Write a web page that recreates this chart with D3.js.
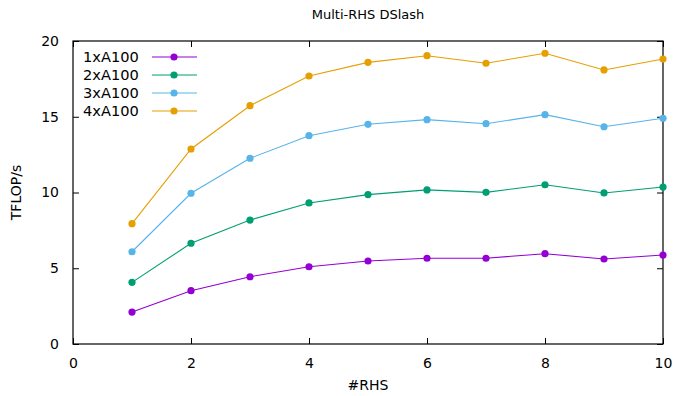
<!DOCTYPE html>
<html>
<head>
<meta charset="utf-8">
<script src="https://cdn.jsdelivr.net/npm/d3@7"></script>
<style>
  body { margin: 0; background: #fff; }
  svg { font-family: "DejaVu Sans", sans-serif; }
</style>
</head>
<body>
<script>
// Données
const rhs = [1, 2, 3, 4, 5, 6, 7, 8, 9, 10];
const gpus1 = [2.11, 3.52, 4.44, 5.10, 5.48, 5.66, 5.66, 5.96, 5.61, 5.87];
const gpus2 = [4.07, 6.65, 8.18, 9.31, 9.86, 10.17, 10.01, 10.51, 9.97, 10.36];
const gpus3 = [6.09, 9.95, 12.26, 13.75, 14.50, 14.81, 14.54, 15.14, 14.34, 14.90];
const gpus4 = [7.94, 12.87, 15.73, 17.69, 18.59, 19.03, 18.53, 19.19, 18.09, 18.81];
const seriesNames = ['1xA100', '2xA100', '3xA100', '4xA100'];
const colors = ['#9400d3', '#009e73', '#56b4e9', '#e69f00'];
const xTicks = [0, 2, 4, 6, 8, 10];
const yTicks = [0, 5, 10, 15, 20];

const series = [gpus1, gpus2, gpus3, gpus4].map((vals, i) => ({
    name: seriesNames[i],
    color: colors[i],
    values: vals.map((v, j) => ({ x: rhs[j], y: v }))
}));

const W = 676, H = 396;
const margin = { top: 41, right: 13, bottom: 52, left: 73 };
const width = W - margin.left - margin.right,
    height = H - margin.top - margin.bottom;

const svg = d3.select('body').append('svg')
    .attr('width', W)
    .attr('height', H);

const g = svg.append('g')
    .attr('transform', `translate(${margin.left}, ${margin.top})`);

const x = d3.scaleLinear().domain([0, 10]).range([0, width]);
const y = d3.scaleLinear().domain([0, 20]).range([height, 0]);

// Axes avec ticks vers l'intérieur (style gnuplot)
const tk = 6;
g.append('g')
    .attr('transform', `translate(0, ${height})`)
    .call(d3.axisBottom(x).tickValues(xTicks).tickSize(-tk).tickPadding(14).tickFormat(d3.format('d')));
g.append('g')
    .call(d3.axisTop(x).tickValues(xTicks).tickSize(-tk).tickFormat(''));
g.append('g')
    .call(d3.axisLeft(y).tickValues(yTicks).tickSize(-tk).tickPadding(14).tickFormat(d3.format('d')));
g.append('g')
    .attr('transform', `translate(${width}, 0)`)
    .call(d3.axisRight(y).tickValues(yTicks).tickSize(-tk).tickFormat(''));

g.selectAll('.domain').remove();
g.selectAll('.tick line').attr('stroke', '#000').attr('stroke-width', 1);
g.selectAll('.tick text')
    .attr('font-size', 14)
    .attr('font-family', '"DejaVu Sans", sans-serif')
    .attr('fill', '#000');

g.append('rect')
    .attr('width', width)
    .attr('height', height)
    .attr('fill', 'none')
    .attr('stroke', '#000')
    .attr('stroke-width', 1.2);

// Courbes
const line = d3.line().x(d => x(d.x)).y(d => y(d.y));

series.forEach(s => {
    g.append('path')
        .datum(s.values)
        .attr('fill', 'none')
        .attr('stroke', s.color)
        .attr('stroke-width', 1.1)
        .attr('d', line);
    g.selectAll(null)
        .data(s.values)
        .join('circle')
        .attr('cx', d => x(d.x))
        .attr('cy', d => y(d.y))
        .attr('r', 3.6)
        .attr('fill', s.color);
});

// Légende
const legend = svg.append('g');
series.forEach((s, i) => {
    const ly = 57 + i * 18;
    legend.append('text')
        .attr('x', 83)
        .attr('y', ly)
        .attr('dy', '0.35em')
        .attr('font-size', 14.6)
        .text(s.name);
    legend.append('line')
        .attr('x1', 152).attr('x2', 197)
        .attr('y1', ly).attr('y2', ly)
        .attr('stroke', s.color)
        .attr('stroke-width', 1.1);
    legend.append('circle')
        .attr('cx', 174).attr('cy', ly)
        .attr('r', 3.6)
        .attr('fill', s.color);
});

// Titres
svg.append('text')
    .attr('x', margin.left + width / 2)
    .attr('y', 19)
    .attr('text-anchor', 'middle')
    .attr('font-size', 13)
    .text('Multi-RHS DSlash');

svg.append('text')
    .attr('x', margin.left + width / 2)
    .attr('y', 390)
    .attr('text-anchor', 'middle')
    .attr('font-size', 14)
    .text('#RHS');

svg.append('text')
    .attr('transform', `translate(21, ${margin.top + height / 2}) rotate(-90)`)
    .attr('text-anchor', 'middle')
    .attr('font-size', 14)
    .text('TFLOP/s');
</script>
</body>
</html>
